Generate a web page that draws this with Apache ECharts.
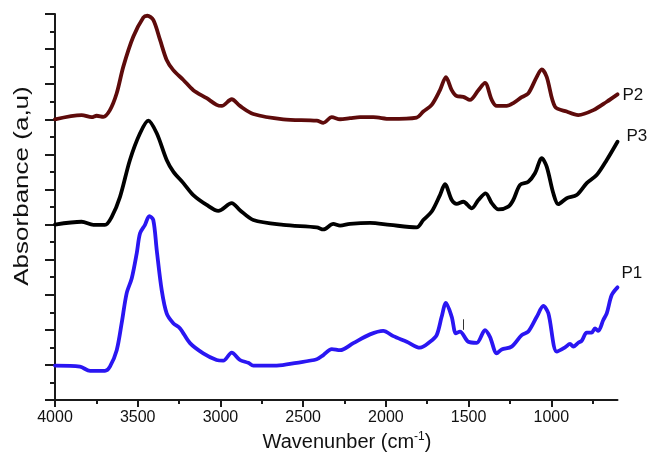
<!DOCTYPE html>
<html>
<head>
<meta charset="utf-8">
<title>FTIR spectra P1 P2 P3</title>
<script src="https://cdn.jsdelivr.net/npm/echarts@6/dist/echarts.min.js"></script>
<style>
  html, body { margin: 0; padding: 0; background: #fff; }
  #chart { width: 652px; height: 452px; }
</style>
</head>
<body>
<div id="chart"></div>
<script>
// Spectra, offset vertically (absorbance in arbitrary units)
const seriesNames = ['P2', 'P3', 'P1'];

const p2Wavenumber = [4000, 3839, 3778, 3748, 3708, 3668, 3627, 3587, 3527, 3466, 3442, 3406, 3365, 3325, 3285, 3224, 3164, 3083, 3023, 2992, 2932, 2882, 2801, 2620, 2418, 2378, 2327, 2277, 2217, 2156, 2076, 1975, 1814, 1774, 1723, 1673, 1637, 1602, 1572, 1532, 1492, 1441, 1401, 1360, 1330, 1270, 1230, 1179, 1139, 1088, 1058, 1028, 978, 907, 837, 746, 665, 600];
const p2Absorbance = [8.00, 8.12, 8.06, 8.10, 8.07, 8.26, 8.74, 9.50, 10.35, 10.90, 10.95, 10.83, 10.26, 9.69, 9.40, 9.12, 8.83, 8.60, 8.41, 8.38, 8.57, 8.38, 8.15, 8.00, 7.96, 7.90, 8.06, 8.00, 8.03, 8.06, 8.06, 8.01, 8.05, 8.22, 8.41, 8.83, 9.20, 8.83, 8.66, 8.64, 8.55, 8.83, 9.04, 8.55, 8.38, 8.38, 8.46, 8.63, 8.74, 9.21, 9.42, 9.21, 8.36, 8.22, 8.12, 8.26, 8.50, 8.71];

const p3Wavenumber = [4000, 3839, 3768, 3698, 3657, 3607, 3547, 3486, 3436, 3385, 3325, 3285, 3224, 3164, 3083, 3013, 2932, 2882, 2801, 2620, 2418, 2378, 2318, 2277, 2217, 2096, 1975, 1814, 1774, 1723, 1673, 1643, 1602, 1572, 1532, 1481, 1441, 1397, 1360, 1320, 1260, 1230, 1189, 1139, 1099, 1058, 1028, 988, 958, 907, 847, 786, 726, 665, 600];
const p3Absorbance = [5.00, 5.08, 4.99, 4.99, 5.22, 5.79, 6.84, 7.60, 7.96, 7.60, 6.84, 6.51, 6.18, 5.84, 5.56, 5.39, 5.61, 5.41, 5.13, 4.99, 4.92, 4.86, 5.02, 4.97, 5.02, 5.05, 4.99, 4.92, 5.13, 5.37, 5.84, 6.15, 5.70, 5.59, 5.65, 5.46, 5.70, 5.89, 5.61, 5.43, 5.51, 5.70, 6.13, 6.22, 6.46, 6.89, 6.65, 5.89, 5.58, 5.75, 5.84, 6.18, 6.41, 6.84, 7.36];

const p1Wavenumber = [4000, 3849, 3788, 3698, 3668, 3627, 3597, 3567, 3536, 3506, 3486, 3456, 3430, 3406, 3385, 3355, 3325, 3285, 3244, 3184, 3104, 3023, 2983, 2932, 2882, 2832, 2801, 2660, 2539, 2418, 2378, 2327, 2277, 2197, 2096, 2016, 1955, 1874, 1794, 1733, 1693, 1663, 1637, 1602, 1577, 1552, 1502, 1451, 1401, 1371, 1330, 1300, 1240, 1179, 1139, 1088, 1048, 1018, 967, 917, 887, 867, 837, 816, 786, 756, 736, 716, 686, 665, 635, 600];
const p1Absorbance = [0.98, 0.95, 0.83, 0.83, 0.95, 1.42, 2.19, 3.04, 3.47, 4.18, 4.75, 4.99, 5.24, 5.13, 4.27, 3.13, 2.47, 2.19, 2.04, 1.62, 1.33, 1.14, 1.12, 1.35, 1.14, 1.06, 0.98, 0.98, 1.06, 1.16, 1.28, 1.45, 1.42, 1.62, 1.87, 1.97, 1.82, 1.66, 1.49, 1.66, 1.85, 2.37, 2.77, 2.37, 1.90, 1.95, 1.66, 1.63, 1.99, 1.80, 1.33, 1.44, 1.52, 1.85, 1.95, 2.37, 2.68, 2.47, 1.38, 1.50, 1.60, 1.52, 1.63, 1.69, 1.92, 1.92, 2.04, 1.97, 2.28, 2.47, 2.99, 3.21];

// Small vertical marker above the P1 trace
const p1MarkerWavenumber = 1532;
const p1MarkerRange = [2.0, 2.3];

// Axis ticks
const xLabelValues = [4000, 3500, 3000, 2500, 2000, 1500, 1000];
const xMinorValues = [3750, 3250, 2750, 2250, 1750, 1250, 750];
const xRange = [600, 4000];
const yRange = [0, 11];

const FONT = 'Liberation Sans, Arial, Helvetica, sans-serif';
const AXIS_COLOR = '#1a1a1a';
const colors = { P2: '#5e0b0b', P3: '#000000', P1: '#2a16f2' };
const labelOffsets = { P2: [5, 1], P3: [9, -5], P1: [4, -14] };

function zip(xs, ys) { return xs.map((x, i) => [x, ys[i]]); }

const seriesData = {
  P2: zip(p2Wavenumber, p2Absorbance),
  P3: zip(p3Wavenumber, p3Absorbance),
  P1: zip(p1Wavenumber, p1Absorbance)
};

const chart = echarts.init(document.getElementById('chart'), null, { renderer: 'canvas' });

const series = seriesNames.map(name => {
  const s = {
    name: name,
    type: 'line',
    xAxisIndex: 0,
    yAxisIndex: 0,
    data: seriesData[name],
    showSymbol: false,
    smooth: 0.3,
    lineStyle: { color: colors[name], width: 3.8, cap: 'round', join: 'round' },
    itemStyle: { color: colors[name] },
    endLabel: {
      show: true,
      formatter: '{a}',
      fontFamily: FONT,
      fontSize: 17,
      color: '#111',
      distance: 0,
      align: 'left',
      verticalAlign: 'middle',
      offset: labelOffsets[name]
    },
    emphasis: { disabled: true },
    z: 3
  };
  if (name === 'P1') {
    s.markLine = {
      silent: true,
      symbol: ['none', 'none'],
      label: { show: false },
      lineStyle: { color: '#333', width: 1, type: 'solid' },
      data: [[
        { coord: [p1MarkerWavenumber, p1MarkerRange[0]] },
        { coord: [p1MarkerWavenumber, p1MarkerRange[1]] }
      ]]
    };
  }
  return s;
});

const option = {
  animation: false,
  backgroundColor: '#ffffff',
  grid: { left: 55, right: 34.5, top: 14, bottom: 52 },
  xAxis: [
    {
      type: 'value',
      min: xRange[0],
      max: xRange[1],
      inverse: true,
      axisLine: { show: true, onZero: false, lineStyle: { color: AXIS_COLOR, width: 2 } },
      axisTick: { show: true, customValues: xLabelValues, length: 7, lineStyle: { color: AXIS_COLOR, width: 2 } },
      axisLabel: {
        customValues: xLabelValues,
        formatter: v => String(v),
        fontFamily: FONT, fontSize: 16, color: '#111', margin: 10
      },
      splitLine: { show: false }
    },
    {
      type: 'value',
      min: xRange[0],
      max: xRange[1],
      inverse: true,
      position: 'bottom',
      axisLine: { show: false },
      axisTick: { show: true, customValues: xMinorValues, length: 4, lineStyle: { color: AXIS_COLOR, width: 2 } },
      axisLabel: { show: false },
      splitLine: { show: false }
    }
  ],
  yAxis: {
    type: 'value',
    min: yRange[0],
    max: yRange[1],
    interval: 1,
    axisLine: { show: true, onZero: false, lineStyle: { color: AXIS_COLOR, width: 2 } },
    axisTick: { show: true, length: 10, lineStyle: { color: AXIS_COLOR, width: 2 } },
    minorTick: { show: true, splitNumber: 2, length: 5, lineStyle: { color: AXIS_COLOR, width: 2 } },
    axisLabel: { show: false },
    splitLine: { show: false },
    minorSplitLine: { show: false }
  },
  graphic: [
    {
      type: 'text',
      x: 22,
      y: 186,
      rotation: Math.PI / 2,
      scaleX: 1.3,
      style: {
        text: 'Absorbance (a,u)',
        fontFamily: FONT,
        fontSize: 20,
        fill: '#111',
        align: 'center',
        verticalAlign: 'middle',
        textAlign: 'center',
        textVerticalAlign: 'middle'
      }
    },
    {
      type: 'text',
      x: 347,
      y: 442,
      style: {
        text: '{t|Wavenunber (cm}{s|-1}{t|)}',
        rich: {
          t: { fontFamily: FONT, fontSize: 20, color: '#111', lineHeight: 22 },
          s: { fontFamily: FONT, fontSize: 12, color: '#111', verticalAlign: 'top', lineHeight: 22 }
        },
        fill: '#111',
        align: 'center',
        verticalAlign: 'middle',
        textAlign: 'center',
        textVerticalAlign: 'middle'
      }
    }
  ],
  series: series
};

chart.setOption(option);
</script>
</body>
</html>
